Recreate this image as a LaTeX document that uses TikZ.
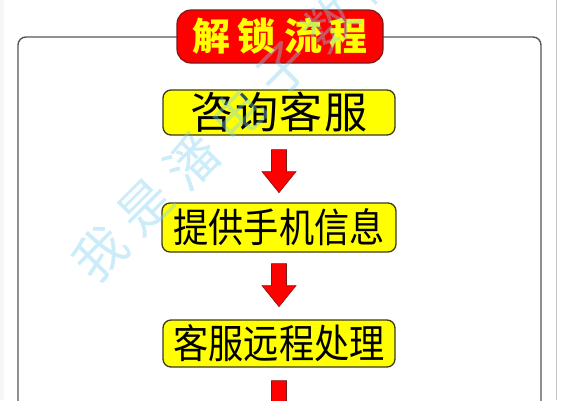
\documentclass[tikz,border=0pt]{standalone}
\usepackage{fontspec}
\usetikzlibrary{calc}
\newfontfamily\cjk{Noto Sans CJK SC}
\newfontfamily\cjkn{Noto Sans CJK SC}[FakeStretch=0.88]
\newfontfamily\cjkb{Noto Sans CJK SC}[BoldFont={Noto Sans CJK SC Black}]
\definecolor{tred}{HTML}{FF0000}
\definecolor{tredline}{HTML}{7A1A1A}
\definecolor{byel}{HTML}{FFFF00}
\definecolor{byelline}{HTML}{3A3A1A}
\definecolor{wmark}{HTML}{7CD0EE}
\definecolor{framec}{HTML}{555555}
\newcommand{\redarr}[1]{\draw[arr] #1 ++(-7.5,0) -- ++(15,0) -- ++(0,22) -- ++(9.5,0) -- ++(-17,21) -- ++(-17,-21) -- ++(9.5,0) -- cycle;}
\begin{document}
\begin{tikzpicture}[x=1pt,y=-1pt,
  frame/.style={draw=framec,line width=1.4pt,rounded corners=8pt},
  titlebox/.style={draw=tredline,fill=tred,line width=1.2pt,rounded corners=14pt,
    minimum width=206pt,minimum height=53pt,inner sep=0pt,
    font=\cjkb\bfseries\fontsize{38}{38}\selectfont,text=byel},
  stepbox/.style={draw=byelline,fill=byel,line width=1.3pt,rounded corners=8pt,
    inner sep=0pt,text=black},
  arr/.style={fill=tred,draw=tredline,line width=0.6pt},
  wm/.style={text=wmark,text opacity=0.4,font=\cjk\fontsize{52}{52}\selectfont,rotate=45,inner sep=0pt}]
\useasboundingbox (0,0) rectangle (561,400);
\clip (0,0) rectangle (561,400);
\fill[gray!7] (0,0) rectangle (4,400);
\draw[gray!45,line width=0.8pt] (556.5,0) -- (556.5,400);
% frame
\draw[frame] (18,420) -- (18,37) -- (541,37) -- (541,420);
% title
\node[titlebox] (title) at (280,36.5) {解\hspace{8pt}锁\hspace{8pt}流\hspace{8pt}程};
% steps
\node[stepbox,minimum width=232pt,minimum height=45pt,font=\cjk\fontsize{43}{43}\selectfont] (b1) at (279,112.5) {咨\hspace{1.5pt}询\hspace{1.5pt}客\hspace{1.5pt}服};
\node[stepbox,minimum width=234pt,minimum height=49pt,font=\cjkn\fontsize{40}{40}\selectfont] (b2) at (279,227.5) {提供手机信息};
\node[stepbox,minimum width=232pt,minimum height=47pt,font=\cjkn\fontsize{40}{40}\selectfont] (b3) at (279,343.5) {客服远程处理};
% arrows
\redarr{($(b1.south)+(0,14)$)}
\redarr{($(b2.south)+(0,11)$)}
\redarr{($(b3.south)+(0,13)$)}
% watermark (on top, translucent)
\foreach \c [count=\i from 0] in {我,是,潘,电,子,数,码}{
  \node[wm] (wm\i) at ({100+\i*46},{253-\i*46}) {\c};
}
\end{tikzpicture}
\end{document}
